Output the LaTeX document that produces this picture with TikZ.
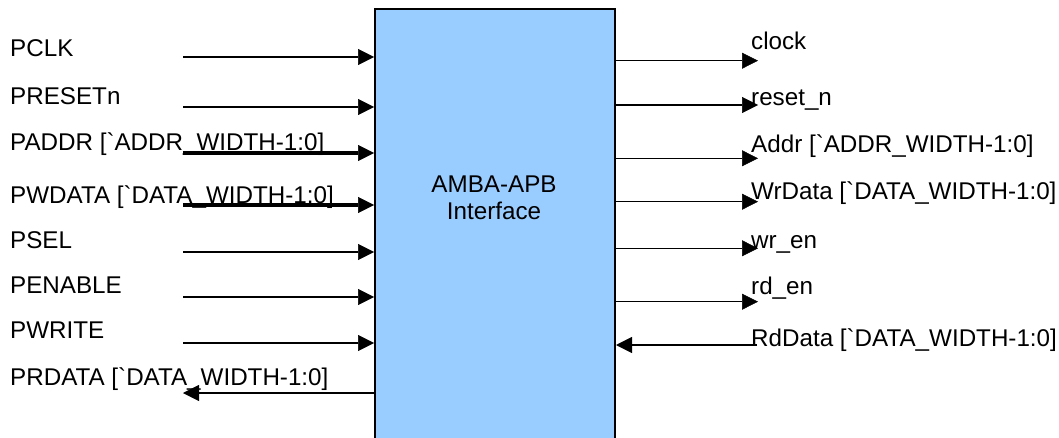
\documentclass[tikz,border=0pt]{standalone}
\usepackage{fontspec}
\setmainfont{Liberation Sans}
\usetikzlibrary{arrows.meta}
\definecolor{apbblue}{HTML}{99CCFF}
\tikzset{
  sig/.style={-{Triangle[length=16pt,width=16pt,line width=0.5pt]},line width=1.5pt},
  bus/.style={sig,line width=4.5pt},
  lbl/.style={anchor=base west,inner sep=0pt,font=\fontsize{24.2}{27}\selectfont},
}
\newcommand{\bq}{\textasciigrave}
\begin{document}
\begin{tikzpicture}[x=1pt,y=-1pt]
\useasboundingbox (0,0) rectangle (1059,438);
\node[draw,line width=2pt,fill=apbblue,minimum width=240pt,minimum height=436pt,inner sep=0pt] (apb) at (495,227.3) {};
\node[align=center,inner sep=0pt,font=\fontsize{24.2}{27}\selectfont] (title) at (494,198) {AMBA-APB\\Interface};
% APB side
\node[lbl] (pclk) at (10,57) {PCLK};
\node[lbl] (presetn) at (10,105) {PRESETn};
\node[lbl] (paddr) at (10,151) {PADDR [\bq ADDR\_WIDTH-1:0]};
\node[lbl] (pwdata) at (10,204) {PWDATA [\bq DATA\_WIDTH-1:0]};
\node[lbl] (psel) at (10,248) {PSEL};
\node[lbl] (penable) at (10,293) {PENABLE};
\node[lbl] (pwrite) at (10,338) {PWRITE};
\node[lbl] (prdata) at (10,385) {PRDATA [\bq DATA\_WIDTH-1:0]};
\coordinate (pclk-s) at (183,57);
\coordinate (presetn-s) at (183,107);
\coordinate (paddr-s) at (183,153);
\coordinate (pwdata-s) at (183,205);
\coordinate (psel-s) at (183,252);
\coordinate (penable-s) at (183,297);
\coordinate (pwrite-s) at (183,343);
\coordinate (prdata-s) at (183,393);
\draw[sig] (pclk-s) -- (pclk-s -| apb.west);
\draw[sig] (presetn-s) -- (presetn-s -| apb.west);
\draw[bus] (paddr-s) -- (paddr-s -| apb.west);
\draw[bus] (pwdata-s) -- (pwdata-s -| apb.west);
\draw[sig] (psel-s) -- (psel-s -| apb.west);
\draw[sig] (penable-s) -- (penable-s -| apb.west);
\draw[sig] (pwrite-s) -- (pwrite-s -| apb.west);
\draw[sig] (prdata-s -| apb.west) -- (prdata-s);
% register side
\node[lbl] (clock) at (751,50) {clock};
\node[lbl] (resetn) at (751,106) {reset\_n};
\node[lbl] (addr) at (751,153) {Addr [\bq ADDR\_WIDTH-1:0]};
\node[lbl] (wrdata) at (751,200) {WrData [\bq DATA\_WIDTH-1:0]};
\node[lbl] (wren) at (751,248) {wr\_en};
\node[lbl] (rden) at (751,294) {rd\_en};
\node[lbl] (rddata) at (751,346) {RdData [\bq DATA\_WIDTH-1:0]};
\coordinate (clock-e) at (758,60.7);
\coordinate (resetn-e) at (758,105);
\coordinate (addr-e) at (758,158.3);
\coordinate (wrdata-e) at (758,201.7);
\coordinate (wren-e) at (758,248.3);
\coordinate (rden-e) at (758,301.7);
\coordinate (rddata-e) at (757,345);
\draw[sig] (clock-e -| apb.east) -- (clock-e);
\draw[sig] (resetn-e -| apb.east) -- (resetn-e);
\draw[sig] (addr-e -| apb.east) -- (addr-e);
\draw[sig] (wrdata-e -| apb.east) -- (wrdata-e);
\draw[sig] (wren-e -| apb.east) -- (wren-e);
\draw[sig] (rden-e -| apb.east) -- (rden-e);
\draw[sig] (rddata-e) -- (rddata-e -| apb.east);
\end{tikzpicture}
\end{document}
